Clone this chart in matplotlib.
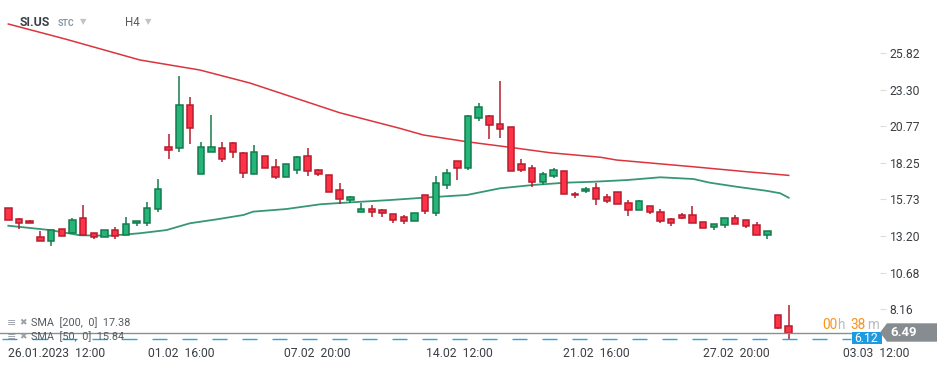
import matplotlib
matplotlib.use("Agg")
import matplotlib.pyplot as plt
from matplotlib.patches import Polygon, Rectangle

plt.rcParams['font.family'] = ['Roboto', 'DejaVu Sans']

# ---------------- data ----------------
opens = [15.11, 14.35, 14.23, 13.11, 12.88, 13.66, 13.39, 14.42, 13.39, 13.11,
         13.59, 13.25, 14.08, 14.12, 15.04, 19.32, 19.29, 22.23, 17.46, 19.01,
         19.25, 19.59, 18.90, 17.46, 18.70, 17.94, 17.25, 17.73, 18.70, 17.73,
         17.39, 16.35, 15.70, 14.88, 15.04, 14.97, 14.70, 14.49, 14.26, 16.01,
         14.81, 16.74, 18.37, 17.91, 21.36, 21.45, 20.90, 20.70, 18.14, 17.87,
         16.90, 17.32, 17.66, 16.13, 16.27, 16.49, 15.87, 16.21, 15.46, 14.97,
         15.25, 14.83, 14.35, 14.63, 14.63, 14.15, 13.80, 13.94, 14.42, 14.28,
         13.94, 13.25, 7.75, 6.97]
highs = [15.11, 14.42, 14.28, 13.55, 13.59, 13.66, 14.44, 15.34, 13.39, 13.59,
         13.80, 14.51, 14.21, 15.52, 17.15, 20.23, 24.23, 22.77, 19.68, 21.54,
         19.68, 19.68, 19.01, 19.48, 18.70, 18.51, 18.14, 18.72, 19.27, 17.82,
         17.39, 16.86, 15.96, 15.50, 15.32, 15.06, 14.70, 14.63, 14.77, 16.01,
         17.34, 17.82, 18.37, 21.54, 22.35, 21.54, 23.89, 20.70, 18.51, 18.08,
         17.63, 17.87, 17.66, 16.23, 16.56, 16.83, 16.08, 16.21, 15.66, 15.66,
         15.25, 15.04, 14.42, 14.77, 15.25, 14.15, 14.01, 14.42, 14.63, 14.28,
         14.15, 13.52, 7.75, 8.44]
lows = [14.28, 13.66, 14.08, 12.88, 12.53, 13.22, 13.39, 13.29, 13.01, 13.11,
        13.01, 13.25, 13.91, 13.91, 14.83, 18.51, 19.01, 19.54, 17.46, 19.01,
        18.30, 18.60, 17.22, 17.46, 17.87, 17.13, 17.25, 17.50, 17.36, 17.37,
        16.26, 15.43, 15.50, 14.88, 14.53, 14.51, 14.10, 14.05, 14.26, 14.72,
        14.58, 16.44, 17.06, 17.73, 21.15, 19.91, 19.98, 17.66, 17.63, 16.56,
        16.72, 17.18, 16.10, 15.79, 16.20, 15.36, 15.46, 15.39, 14.60, 14.97,
        14.74, 14.12, 13.91, 14.39, 14.08, 13.73, 13.63, 13.77, 14.01, 13.73,
        13.25, 13.01, 6.79, 6.08]
closes = [14.28, 14.12, 14.08, 12.88, 13.59, 13.22, 14.28, 13.29, 13.11, 13.59,
          13.18, 14.01, 14.21, 15.11, 16.42, 19.13, 22.23, 20.67, 19.32, 19.32,
          18.49, 18.97, 17.52, 18.97, 17.87, 17.29, 18.14, 18.63, 17.66, 17.51,
          16.26, 15.77, 15.87, 15.06, 14.88, 14.81, 14.32, 14.26, 14.77, 14.94,
          16.83, 17.52, 17.91, 21.45, 22.08, 20.83, 20.60, 17.66, 17.77, 16.90,
          17.46, 17.73, 16.10, 16.01, 16.42, 15.73, 15.63, 15.39, 14.97, 15.59,
          14.83, 14.26, 14.12, 14.46, 14.08, 13.73, 14.01, 14.42, 14.01, 13.87,
          13.25, 13.52, 6.88, 6.49]

sma200_pos = [0, 5.3, 12.3, 17.9, 22.6, 31.0, 36.6, 38.8, 42.9, 46.9, 50.7,
              55.4, 56.9, 64.0, 69.1, 71.5, 73]
sma200 = [27.82, 26.79, 25.34, 24.65, 23.75, 21.70, 20.63, 20.17, 19.70, 19.32,
          18.94, 18.63, 18.44, 17.98, 17.63, 17.48, 17.38]

sma50_pos = [0, 3.9, 6.7, 9.5, 12.3, 14.8, 17.0, 19.5, 22.0, 22.9, 26.0, 29.2,
             32.0, 35.7, 39.4, 42.9, 46.0, 49.1, 52.2, 54.7, 57.9, 61.0, 64.1,
             65.6, 68.1, 70.9, 72.2, 73.0]
sma50 = [13.91, 13.61, 13.25, 13.22, 13.39, 13.61, 14.08, 14.35, 14.65, 14.88,
         15.06, 15.39, 15.52, 15.68, 15.87, 16.03, 16.49, 16.72, 16.88, 16.94,
         17.06, 17.25, 17.13, 16.88, 16.60, 16.32, 16.15, 15.84]

ytick_vals = [25.82, 23.30, 20.77, 18.25, 15.73, 13.20, 10.68, 8.16]
xtick_pos = [0, 16.16, 28.88, 42.21, 54.98, 68.12, 81.15]
xtick_labels = ['26.01.2023  12:00', '01.02  16:00', '07.02  20:00', '14.02  12:00',
                '21.02  16:00', '27.02  20:00', '03.03  12:00']

last_price = 6.49
bid_price = 6.12
sma200_last = 17.38
sma50_last = 15.84

# ---------------- figure ----------------
W, H = 949, 370
fig = plt.figure(figsize=(W / 100, H / 100), dpi=100)
fig.patch.set_facecolor('white')

ax = fig.add_axes([0, 28 / H, 880 / W, 342 / H])
ax.set_xlim(-0.776, 81.54)
ax.set_ylim(5.891, 29.475)
for s in ax.spines.values():
    s.set_visible(False)

GREEN_F, GREEN_E = '#25b47a', '#157a4c'
RED_F, RED_E = '#ff3347', '#b81c2e'

xs = list(range(len(opens)))
up = [c >= o for o, c in zip(opens, closes)]
fills = [GREEN_F if u else RED_F for u in up]
edges = [GREEN_E if u else RED_E for u in up]

ax.vlines(xs, lows, highs, colors=edges, linewidth=1.1, zorder=3)
bottoms = [min(o, c) for o, c in zip(opens, closes)]
heights = [max(abs(c - o), 0.04) for o, c in zip(opens, closes)]
ax.bar(xs, heights, bottom=bottoms, width=0.6, color=fills, edgecolor=edges,
       linewidth=1.1, zorder=4)

ax.plot(sma200_pos, sma200, color='#d81e27', lw=1.1, alpha=0.9, zorder=2)
ax.plot(sma50_pos, sma50, color='#13865a', lw=1.3, alpha=0.85, zorder=2)

ax.axhline(last_price, color='#8a8f93', lw=1.0, zorder=5)
ax.hlines(bid_price, -0.776 + 1.7 / 10.69, 78.83, colors='#2aa4e0', lw=1.0,
          linestyles=(0, (10.8, 10.8)), zorder=5)

ax.yaxis.tick_right()
ax.set_yticks(ytick_vals)
ax.set_yticklabels([f'{v:.2f}' for v in ytick_vals])
ax.tick_params(axis='y', length=4.3, width=0.8, color='#dddddd', pad=2.5,
               labelsize=8.7, labelcolor='#3a3f44')

ax.set_xticks(xtick_pos)
ax.set_xticklabels(xtick_labels)
ax.tick_params(axis='x', length=0, pad=3.5, labelsize=8.7, labelcolor='#3a3f44')
ax.get_xticklabels()[0].set_horizontalalignment('left')

# ---------------- overlay (pixel coordinates) ----------------
ov = fig.add_axes([0, 0, 1, 1])
ov.set_xlim(0, W)
ov.set_ylim(H, 0)
ov.axis('off')
ov.patch.set_alpha(0)

# title
ov.text(20, 23, 'SI.US', fontsize=8.8, fontweight='bold', color='#3a3f44', va='center')
ov.text(58, 23.5, 'STC', fontsize=6.3, color='#8796a5', va='center', fontweight='bold')
ov.text(80, 21.5, '▼', fontsize=6, color='#c0c4c8', va='center', family=['DejaVu Sans'])
ov.text(125, 23, 'H4', fontsize=8.3, color='#555b61', va='center')
ov.text(145, 21.5, '▼', fontsize=6, color='#c0c4c8', va='center', family=['DejaVu Sans'])

# legend rows
for yy, label in [(323, f'SMA  [200,  0]  {sma200_last:.2f}'),
                  (337, f'SMA  [50,  0]  {sma50_last:.2f}')]:
    ov.text(7, yy, '≡', fontsize=8, color='#9aa0a6', va='center', family=['DejaVu Sans'])
    ov.text(19, yy, '✖', fontsize=6.5, color='#9aa0a6', va='center', family=['DejaVu Sans'])
    ov.text(31, yy, label, fontsize=7.8, color='#555b61', va='center')

# timer
ov.text(822, 325, '00', fontsize=9.8, color='#f7941d', va='center')
ov.text(837, 325, 'h', fontsize=9.8, color='#b8bcc0', va='center')
ov.text(850, 325, '38', fontsize=9.8, color='#f7941d', va='center')
ov.text(867, 325, 'm', fontsize=9.8, color='#b8bcc0', va='center')

# bid box
ov.add_patch(Rectangle((851.7, 331.7), 30, 12.6, facecolor='#1d9be2',
                       edgecolor='none', zorder=3))
ov.text(866.5, 338, f'{bid_price:.2f}', fontsize=8.7, color='white',
        ha='center', va='center', zorder=4)

# last price box
ov.add_patch(Polygon([(880, 332.5), (887, 323.3), (937, 323.3), (937, 341.7),
                      (887, 341.7)], closed=True, facecolor='#878c90',
                     edgecolor='none', zorder=5))
ov.text(890, 332.5, f'{last_price:.2f}', fontsize=9.5, color='white',
        va='center', fontweight='bold', zorder=6)

fig.savefig('out.png', dpi=100)
